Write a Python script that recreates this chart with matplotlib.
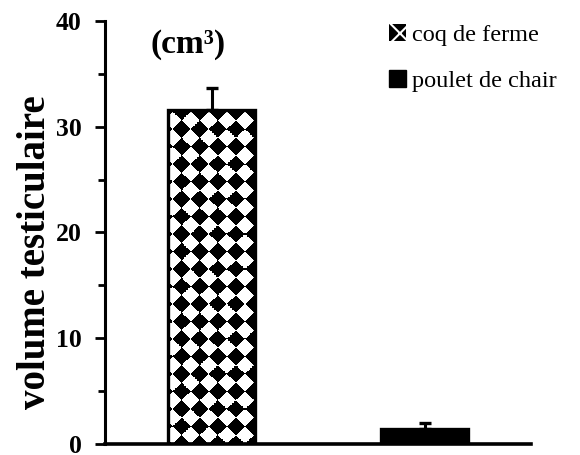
import numpy as np
import matplotlib
matplotlib.use("Agg")
import matplotlib.pyplot as plt
from matplotlib.patches import Patch

# data
groups = ["coq de ferme", "poulet de chair"]
volumes = [31.6, 1.4]
errors = [2.1, 0.6]
yticks = [0, 10, 20, 30, 40]

serif = ["Liberation Serif", "DejaVu Serif"]
plt.rcParams["hatch.linewidth"] = 1.5

fig = plt.figure(figsize=(5.8, 4.55), dpi=100)
ax = fig.add_axes([105 / 580, 11 / 455, 426 / 580, 423 / 455])

x = np.arange(len(groups))
bars = ax.bar(x, volumes, width=0.41, facecolor="none", edgecolor="black",
              linewidth=2.4, zorder=3)
ax.errorbar(x, volumes, yerr=[np.zeros(len(errors)), errors], fmt="none",
            ecolor="black", elinewidth=2.2, capsize=4.5, capthick=2.4, zorder=4)

# diamond checkerboard fill for the first bar, black fill for the second
b = bars[0]
x0, w, h = b.get_x(), b.get_width(), b.get_height()
a = 18 / 213  # diamond width in data units
c = 17.5 / 10.6  # diamond height in data units
xs = np.linspace(x0, x0 + w, 400)
ys = np.linspace(0, h, 1400)
XX, YY = np.meshgrid(xs, ys)
U = np.floor((XX - x0 - 0.25 * a) / a + YY / c)
V = np.floor((XX - x0 - 0.25 * a) / a - YY / c)
pattern = ((U + V) % 2 == 0).astype(float)
img = ax.imshow(pattern, extent=(x0, x0 + w, 0, h), origin="lower",
                cmap="gray_r", vmin=0, vmax=1, aspect="auto",
                interpolation="nearest", zorder=2)
img.set_clip_path(b)
bars[1].set_facecolor("black")

ax.set_xlim(-0.5, 1.5)
ax.set_ylim(0, 40)
ax.set_yticks(yticks)
ax.set_yticks(np.arange(5, 40, 10), minor=True)
ax.set_xticks([])
for s in ["top", "right"]:
    ax.spines[s].set_visible(False)
ax.spines["left"].set_linewidth(2.2)
ax.spines["bottom"].set_linewidth(2.6)
ax.tick_params(axis="y", which="major", length=7, width=2, direction="out", pad=10)
ax.tick_params(axis="y", which="minor", length=5, width=2, direction="out")
for t in ax.get_yticklabels():
    t.set_fontfamily(serif)
    t.set_fontweight("bold")
    t.set_fontsize(18.5)

fig.text(36 / 580, 1 - 252 / 455, "volume testiculaire", rotation=90,
         ha="center", va="center", fontsize=28, fontweight="bold", family=serif)
fig.text(188 / 580, 1 - 44 / 455, "(cm³)", ha="center", va="center",
         fontsize=24, fontweight="bold", family=serif)

handles = [Patch(facecolor="black", edgecolor="white", hatch="x", linewidth=0),
           Patch(facecolor="black", edgecolor="black")]
leg = ax.legend(handles, groups, loc="upper left",
                bbox_to_anchor=(389 / 580, 1 - 24 / 455),
                bbox_transform=fig.transFigure, frameon=False,
                borderpad=0, borderaxespad=0,
                handlelength=0.7, handleheight=0.7, handletextpad=0.25,
                labelspacing=1.0, prop={"family": serif, "size": 17.5})

fig.savefig("out.png", dpi=100)
